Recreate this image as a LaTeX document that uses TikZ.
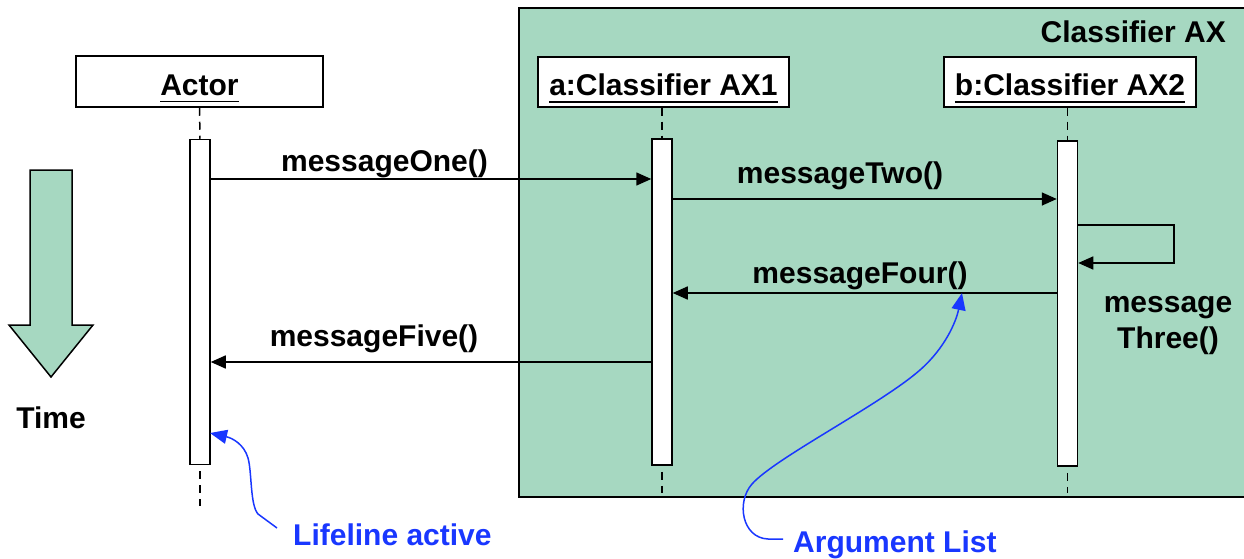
\documentclass[tikz,border=0pt]{standalone}
\usepackage{fontspec}
\setmainfont{Liberation Sans}
\usetikzlibrary{arrows.meta}

\definecolor{frameGreen}{RGB}{166,216,193}
\definecolor{noteBlue}{RGB}{25,55,255}

% underlined object name; the rule sits below the baseline without adding depth
\newsavebox\ulsave
\newcommand\ulword[1]{\sbox\ulsave{#1}\rlap{\raisebox{0pt}[0pt][0pt]{\rule[-7pt]{\wd\ulsave}{1.6pt}}}\usebox\ulsave}

\tikzset{
  every node/.style={font=\fontsize{30}{36}\selectfont\bfseries},
  objbox/.style={draw, line width=1.5pt, fill=white, inner sep=0pt, text height=28pt, text depth=0pt},
  actbar/.style={draw, line width=1.5pt, fill=white, minimum width=20pt, inner sep=0pt},
  lifeline/.style={line width=1.5pt, dash pattern=on 8pt off 6pt},
  msg/.style={line width=1.6pt, -{Triangle[length=15pt,width=13pt]}},
  note/.style={text=noteBlue},
  noteline/.style={draw=noteBlue, line width=1.5pt, -{Triangle[length=17pt,width=14pt]}},
  lbl/.style={anchor=base, inner sep=0pt},
}

\begin{document}
\begin{tikzpicture}[x=1pt, y=-1pt]
\useasboundingbox (0,0) rectangle (1244,559);

% enclosing classifier
\node[draw, line width=2pt, fill=frameGreen, minimum width=731pt, minimum height=489pt,
      inner sep=0pt] (frameAX) at (884.5,252.5) {};
\node[lbl, anchor=base east] (frameTitle) at (1226,43) {Classifier AX};

% time arrow
\draw[line width=1.5pt, fill=frameGreen, line join=miter]
  (30,170) -- (72,170) -- (72,325) -- (93,325) -- (51,377) -- (9,325) -- (30,325) -- cycle;
\node[lbl] (timeTxt) at (51,428) {Time};

% object heads
\node[objbox, minimum width=247pt, minimum height=51pt] (actorBox) at (199.5,81.5) {\ulword{Actor}};
\node[objbox, minimum width=251pt, minimum height=50pt] (aBox) at (663.5,82) {\ulword{a:Classifier AX1}};
\node[objbox, minimum width=252pt, minimum height=50pt] (bBox) at (1070,82) {\ulword{b:Classifier AX2}};

% activation bars
\node[actbar, minimum height=325pt] (barActor) at (200,302) {};
\node[actbar, minimum height=326pt] (barA) at (662,302) {};
\node[actbar, minimum height=325pt] (barB) at (1067.5,303.5) {};

% lifeline ends
\coordinate (endActor) at (200,506);
\coordinate (endA) at (662,493);
\coordinate (endB) at (1067.5,493);

% dashed lifelines
\draw[lifeline] (actorBox.south) -- (barActor.north);
\draw[lifeline] (aBox.south -| barA.north) -- (barA.north);
\draw[lifeline] (bBox.south -| barB.north) -- (barB.north);
\draw[lifeline] ([yshift=-6pt]barActor.south) -- (endActor);
\draw[lifeline] ([yshift=-6pt]barA.south) -- (endA);
\draw[lifeline] ([yshift=-6pt]barB.south) -- (endB);

% messages
\draw[msg] (barActor.east |- 0,179) -- (barA.west |- 0,179);
\node[lbl] (m1) at (384.5,171) {messageOne()};

\draw[msg] (barA.east |- 0,199) -- (barB.west |- 0,199);
\node[lbl] (m2) at (840,183) {messageTwo()};

\coordinate (selfR) at (1174,244);
\draw[msg] (barB.east |- 0,225) -| (selfR) |- (barB.east |- 0,263);
\node[lbl] (m3a) at (1168,312) {message};
\node[lbl] (m3b) at (1168,348) {Three()};

\draw[msg] (barB.west |- 0,293) -- (barA.east |- 0,293);
\node[lbl] (m4) at (860,283) {messageFour()};

\draw[msg] (barA.west |- 0,362) -- (barActor.east |- 0,362);
\node[lbl] (m5) at (374,346) {messageFive()};

% annotations
\node[lbl, note, anchor=base west] (noteLife) at (293,545) {Lifeline active};
\coordinate (lifeTip) at (210,433);
\draw[noteline] ([xshift=-16pt,yshift=17pt]noteLife.base west) -- (258,514)
  .. controls (250,505) and (252,472) .. (248,458)
  .. controls (244,444) and (232,438) .. (lifeTip);

\node[lbl, note, anchor=base west] (noteArg) at (793,552) {Argument List};
\coordinate (argTip) at (962,293);
\draw[noteline] ([xshift=-10pt,yshift=13pt]noteArg.base west) -- (768,539)
  .. controls (742,538) and (736,502) .. (752,484)
  .. controls (775,458) and (880,405) .. (920,370)
  .. controls (945,348) and (956,322) .. (argTip);
\end{tikzpicture}
\end{document}
